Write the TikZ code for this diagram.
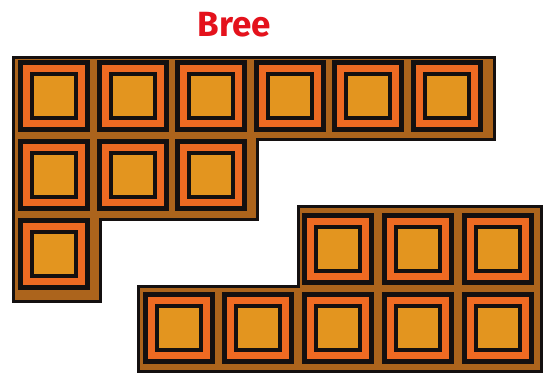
\documentclass[tikz,border=0pt]{standalone}
\usepackage{fontspec}
\setmainfont{Fira Sans}
\definecolor{shapebrown}{HTML}{AC641C}
\definecolor{band}{HTML}{EE6A22}
\definecolor{innerfill}{HTML}{E3951F}
\definecolor{tileblack}{HTML}{141010}
\definecolor{titlered}{HTML}{E4121C}
\tikzset{
  tile/.pic={
    \fill[tileblack] (0,0) rectangle (72,72);
    \fill[band] (5,5) rectangle (67,67);
    \fill[tileblack] (12,12) rectangle (60,60);
    \fill[innerfill] (16,16) rectangle (56,56);
  },
  slab/.style={fill=shapebrown, draw=tileblack, line width=3pt, line join=miter}
}
\begin{document}
\begin{tikzpicture}[x=1pt,y=-1pt]
\useasboundingbox (0,0) rectangle (547,374);
\fill[white] (0,0) rectangle (547,374);
% title
\node[anchor=base, text=titlered, font=\fontsize{35}{40}\selectfont\bfseries, inner sep=0pt] (title) at (234.5,37) {Bree};
% upper-left slab
\draw[slab] (13.5,57.5) -- (494.5,57.5) -- (494.5,139.5) -- (257.5,139.5) -- (257.5,219.5) -- (100.5,219.5) -- (100.5,301.5) -- (13.5,301.5) -- cycle;
\foreach \x in {18,96.5,175,253.5,332,410.5} { \pic at (\x,60) {tile}; }
\foreach \x in {18,96.5,175} { \pic at (\x,139) {tile}; }
\pic at (18,218) {tile};
% lower-right slab
\draw[slab] (298.5,206.5) -- (541.5,206.5) -- (541.5,371.5) -- (138.5,371.5) -- (138.5,286.5) -- (298.5,286.5) -- cycle;
\foreach \x in {302,382,462} { \pic at (\x,213) {tile}; }
\foreach \x in {143,222,302,382,462} { \pic at (\x,292) {tile}; }
\end{tikzpicture}
\end{document}
